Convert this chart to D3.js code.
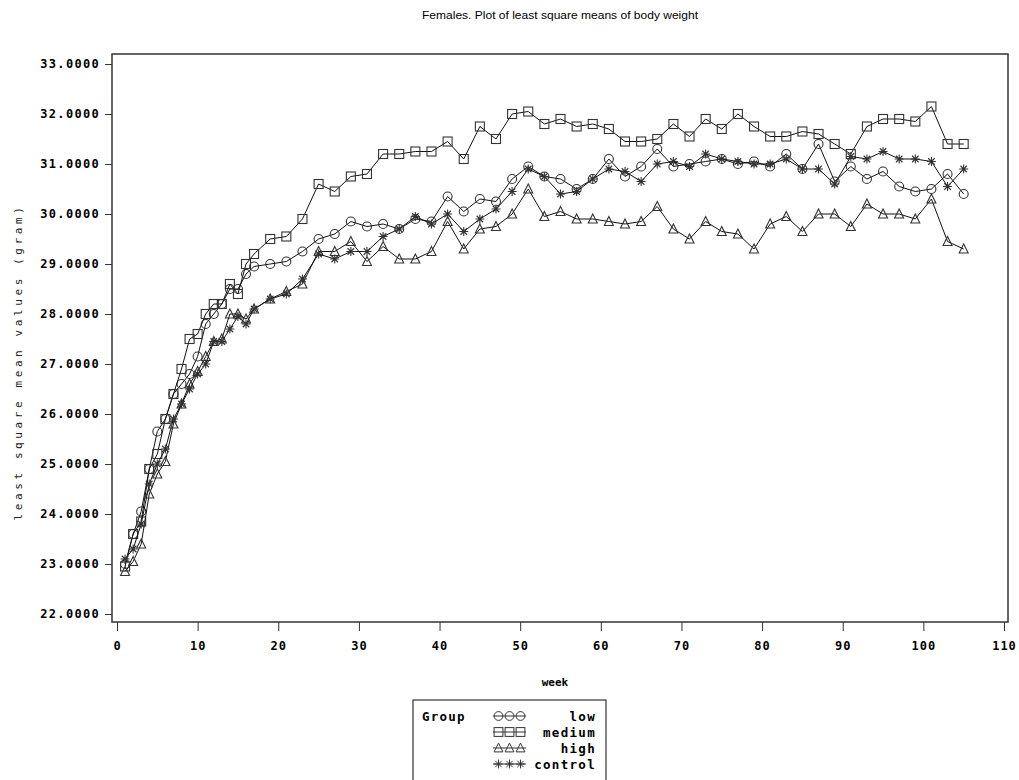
<!DOCTYPE html>
<html>
<head>
<meta charset="utf-8">
<script src="https://cdn.jsdelivr.net/npm/d3@7"></script>
<style>
  body { margin: 0; background: #fff; }
  svg { display: block; }
  .tick text { font-family: "DejaVu Sans Mono", monospace; font-weight: bold; font-size: 12px; fill: #000; }
</style>
</head>
<body>
<svg id="chart" width="1019" height="780"></svg>
<script>
const WIDTH = 1019;
const HEIGHT = 780;
const FRAME = { left: 112, top: 54, right: 1008, bottom: 622 };
const MARKER = 4.5;

const weeks = [1,2,3,4,5,6,7,8,9,10,11,12,13,14,15,16,17,19,21,23,25,27,29,31,33,35,37,39,41,43,45,47,49,51,53,55,57,59,61,63,65,67,69,71,73,75,77,79,81,83,85,87,89,91,93,95,97,99,101,103,105];

const lowValues = [23.0,23.6,24.05,24.9,25.65,25.9,26.4,26.6,26.8,27.15,27.8,28.0,28.2,28.5,28.5,28.8,28.95,29.0,29.05,29.25,29.5,29.6,29.85,29.75,29.8,29.7,29.9,29.85,30.35,30.05,30.3,30.25,30.7,30.95,30.75,30.7,30.5,30.7,31.1,30.75,30.95,31.3,30.95,31.0,31.05,31.1,31.0,31.05,30.95,31.2,30.9,31.4,30.65,30.95,30.7,30.85,30.55,30.45,30.5,30.8,30.4];

const mediumValues = [22.95,23.6,23.85,24.9,25.2,25.9,26.4,26.9,27.5,27.6,28.0,28.2,28.2,28.6,28.4,29.0,29.2,29.5,29.55,29.9,30.6,30.45,30.75,30.8,31.2,31.2,31.25,31.25,31.45,31.1,31.75,31.5,32.0,32.05,31.8,31.9,31.75,31.8,31.7,31.45,31.45,31.5,31.8,31.55,31.9,31.7,32.0,31.75,31.55,31.55,31.65,31.6,31.4,31.2,31.75,31.9,31.9,31.85,32.15,31.4,31.4];

const highValues = [22.85,23.05,23.4,24.4,24.8,25.05,25.8,26.2,26.6,26.85,27.15,27.45,27.5,28.0,28.0,27.9,28.1,28.3,28.45,28.6,29.25,29.25,29.45,29.05,29.35,29.1,29.1,29.25,29.85,29.3,29.7,29.75,30.0,30.5,29.95,30.05,29.9,29.9,29.85,29.8,29.85,30.15,29.7,29.5,29.85,29.65,29.6,29.3,29.8,29.95,29.65,30.0,30.0,29.75,30.2,30.0,30.0,29.9,30.3,29.45,29.3];

const controlValues = [23.1,23.3,23.8,24.6,25.0,25.3,25.9,26.2,26.5,26.8,27.0,27.45,27.45,27.7,27.95,27.8,28.1,28.3,28.4,28.7,29.2,29.1,29.25,29.25,29.55,29.7,29.95,29.8,30.0,29.65,29.9,30.1,30.45,30.9,30.75,30.4,30.45,30.7,30.9,30.85,30.65,31.0,31.05,30.95,31.2,31.1,31.05,31.0,31.0,31.1,30.9,30.9,30.6,31.15,31.1,31.25,31.1,31.1,31.05,30.55,30.9];

const groups = ["low", "medium", "high", "control"];
const symbols = ["circle", "square", "triangle", "star"];
const xTicks = [0,10,20,30,40,50,60,70,80,90,100,110];
const yTicks = [22,23,24,25,26,27,28,29,30,31,32,33];

const series = [
  { name: "low", symbol: "circle", values: lowValues },
  { name: "medium", symbol: "square", values: mediumValues },
  { name: "high", symbol: "triangle", values: highValues },
  { name: "control", symbol: "star", values: controlValues }
];

const svg = d3.select("#chart");

const x = d3.scaleLinear().domain([0, 110]).range([117, 1004]);
const y = d3.scaleLinear().domain([22, 33]).range([614, 64]);

// title
svg.append("text")
  .attr("x", 560).attr("y", 19)
  .attr("text-anchor", "middle")
  .style("font-family", "Liberation Sans, Arial, sans-serif")
  .style("font-size", "11.5px")
  .attr("textLength", 276)
  .attr("lengthAdjust", "spacingAndGlyphs")
  .text("Females. Plot of least square means of body weight");

// frame
svg.append("rect")
  .attr("x", FRAME.left).attr("y", FRAME.top)
  .attr("width", FRAME.right - FRAME.left)
  .attr("height", FRAME.bottom - FRAME.top)
  .attr("fill", "none")
  .attr("stroke", "#333")
  .attr("stroke-width", 1.5);

// axes
const yAxis = svg.append("g")
  .attr("transform", `translate(${FRAME.left},0)`)
  .call(d3.axisLeft(y).tickValues(yTicks).tickFormat(d3.format(".4f")).tickSize(7).tickPadding(5));
yAxis.select(".domain").remove();
yAxis.selectAll(".tick line").attr("stroke", "#333");
yAxis.selectAll(".tick text").style("letter-spacing", "1.3px");

const xAxis = svg.append("g")
  .attr("transform", `translate(0,${FRAME.bottom})`)
  .call(d3.axisBottom(x).tickValues(xTicks).tickFormat(d3.format("d")).tickSize(9).tickPadding(10));
xAxis.select(".domain").remove();
xAxis.selectAll(".tick line").attr("stroke", "#333");
xAxis.selectAll(".tick text").style("letter-spacing", "1px");

// axis labels
svg.append("text")
  .attr("x", 555).attr("y", 686)
  .attr("text-anchor", "middle")
  .style("font-family", "DejaVu Sans Mono, monospace")
  .style("font-weight", "bold")
  .style("font-size", "11px")
  .text("week");

svg.append("text")
  .attr("transform", "translate(22,362) rotate(-90)")
  .attr("text-anchor", "middle")
  .style("font-family", "DejaVu Sans Mono, monospace")
  .style("font-size", "11px")
  .style("letter-spacing", "3.6px")
  .style("fill", "#222")
  .text("least square mean values (gram)");

function drawMarker(g, type, cx, cy, r) {
  if (type === "circle") {
    g.append("circle").attr("cx", cx).attr("cy", cy).attr("r", r);
  } else if (type === "square") {
    g.append("rect").attr("x", cx - r).attr("y", cy - r).attr("width", 2 * r).attr("height", 2 * r);
  } else if (type === "triangle") {
    g.append("path").attr("d", `M${cx},${cy - r - 0.5}L${cx + r},${cy + r - 0.5}L${cx - r},${cy + r - 0.5}Z`);
  } else {
    const d = r * 0.72;
    g.append("path").attr("d",
      `M${cx},${cy - r}L${cx},${cy + r}` +
      `M${cx - r},${cy}L${cx + r},${cy}` +
      `M${cx - d},${cy - d}L${cx + d},${cy + d}` +
      `M${cx - d},${cy + d}L${cx + d},${cy - d}`);
  }
}

const line = d3.line().x((d) => x(d[0])).y((d) => y(d[1]));

for (let s of series) {
  const pts = weeks.map((w, i) => [w, s.values[i]]);
  svg.append("path")
    .datum(pts)
    .attr("d", line)
    .attr("fill", "none")
    .attr("stroke", "#111")
    .attr("stroke-width", 1);
  const mg = svg.append("g")
    .attr("fill", "none")
    .attr("stroke", "#333")
    .attr("stroke-width", 1.1);
  for (let p of pts) drawMarker(mg, s.symbol, x(p[0]), y(p[1]), MARKER);
}

// legend
const legend = svg.append("g");
legend.append("rect")
  .attr("x", 413).attr("y", 700)
  .attr("width", 193).attr("height", 95)
  .attr("fill", "#fff")
  .attr("stroke", "#333")
  .attr("stroke-width", 1.2);
legend.append("text")
  .attr("x", 422).attr("y", 720.5)
  .style("font-family", "DejaVu Sans Mono, monospace")
  .style("font-weight", "bold")
  .style("font-size", "12.5px")
  .style("letter-spacing", "1.2px")
  .text("Group");

groups.forEach((name, i) => {
  const ly = 716 + i * 16;
  const g = legend.append("g").attr("fill", "none").attr("stroke", "#333").attr("stroke-width", 1);
  g.append("line").attr("x1", 493).attr("x2", 526).attr("y1", ly).attr("y2", ly);
  [498.5, 509.5, 520.5].forEach((lx) => drawMarker(g, symbols[i], lx, ly, 4.4));
  legend.append("text")
    .attr("x", 596).attr("y", ly + 4.5)
    .attr("text-anchor", "end")
    .style("font-family", "DejaVu Sans Mono, monospace")
    .style("font-weight", "bold")
    .style("font-size", "12.5px")
    .style("letter-spacing", "1.3px")
    .text(name);
});
</script>
</body>
</html>
